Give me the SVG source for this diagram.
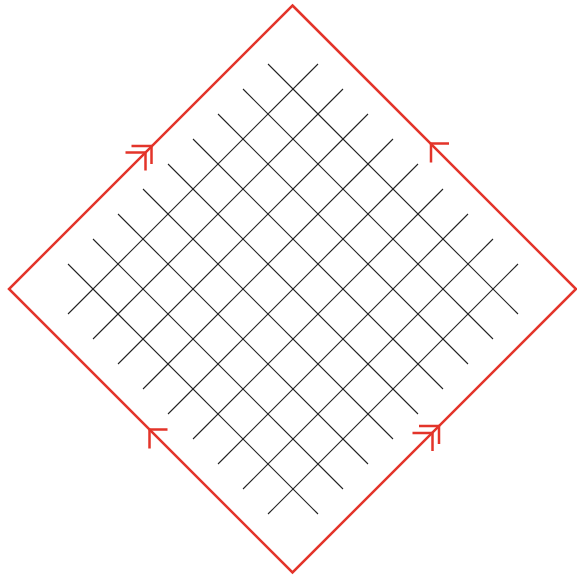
<svg xmlns="http://www.w3.org/2000/svg" width="577" height="576" viewBox="0 0 577 576">
<style>
.edge{fill:none;stroke:#e3342a;stroke-width:2.5;stroke-linejoin:miter}
.grid line{stroke:#222;stroke-width:1.1}
.arr{fill:none;stroke:#e3342a;stroke-width:2.5}
</style>
<defs>
<path id="ul" d="M18,0 L0,0 L0,19"/>
<path id="ur" d="M-20,0 L0,0 L0,18"/>
</defs>
<rect width="577" height="576" fill="#fff"/>
<g id="grid" class="grid">
<line x1="268" y1="64" x2="518" y2="314"/>
<line x1="243" y1="89" x2="493" y2="339"/>
<line x1="218" y1="114" x2="468" y2="364"/>
<line x1="193" y1="139" x2="443" y2="389"/>
<line x1="168" y1="164" x2="418" y2="414"/>
<line x1="143" y1="189" x2="393" y2="439"/>
<line x1="118" y1="214" x2="368" y2="464"/>
<line x1="93" y1="239" x2="343" y2="489"/>
<line x1="68" y1="264" x2="318" y2="514"/>
<line x1="68" y1="314" x2="318" y2="64"/>
<line x1="93" y1="339" x2="343" y2="89"/>
<line x1="118" y1="364" x2="368" y2="114"/>
<line x1="143" y1="389" x2="393" y2="139"/>
<line x1="168" y1="414" x2="418" y2="164"/>
<line x1="193" y1="439" x2="443" y2="189"/>
<line x1="218" y1="464" x2="468" y2="214"/>
<line x1="243" y1="489" x2="493" y2="239"/>
<line x1="268" y1="514" x2="518" y2="264"/>
</g>
<g id="boundary">
<path class="edge" d="M292.5,5.5 L576,289 L292.5,572.5 L9,289 Z"/>
</g>
<g id="connectors">
<use href="#ur" class="arr" x="151.5" y="146"/>
<use href="#ur" class="arr" x="145.5" y="152.5"/>
<use href="#ul" class="arr" x="431" y="143.5"/>
<use href="#ul" class="arr" x="149.5" y="429.5"/>
<use href="#ur" class="arr" x="439" y="426"/>
<use href="#ur" class="arr" x="432.5" y="433"/>
</g>
</svg>
